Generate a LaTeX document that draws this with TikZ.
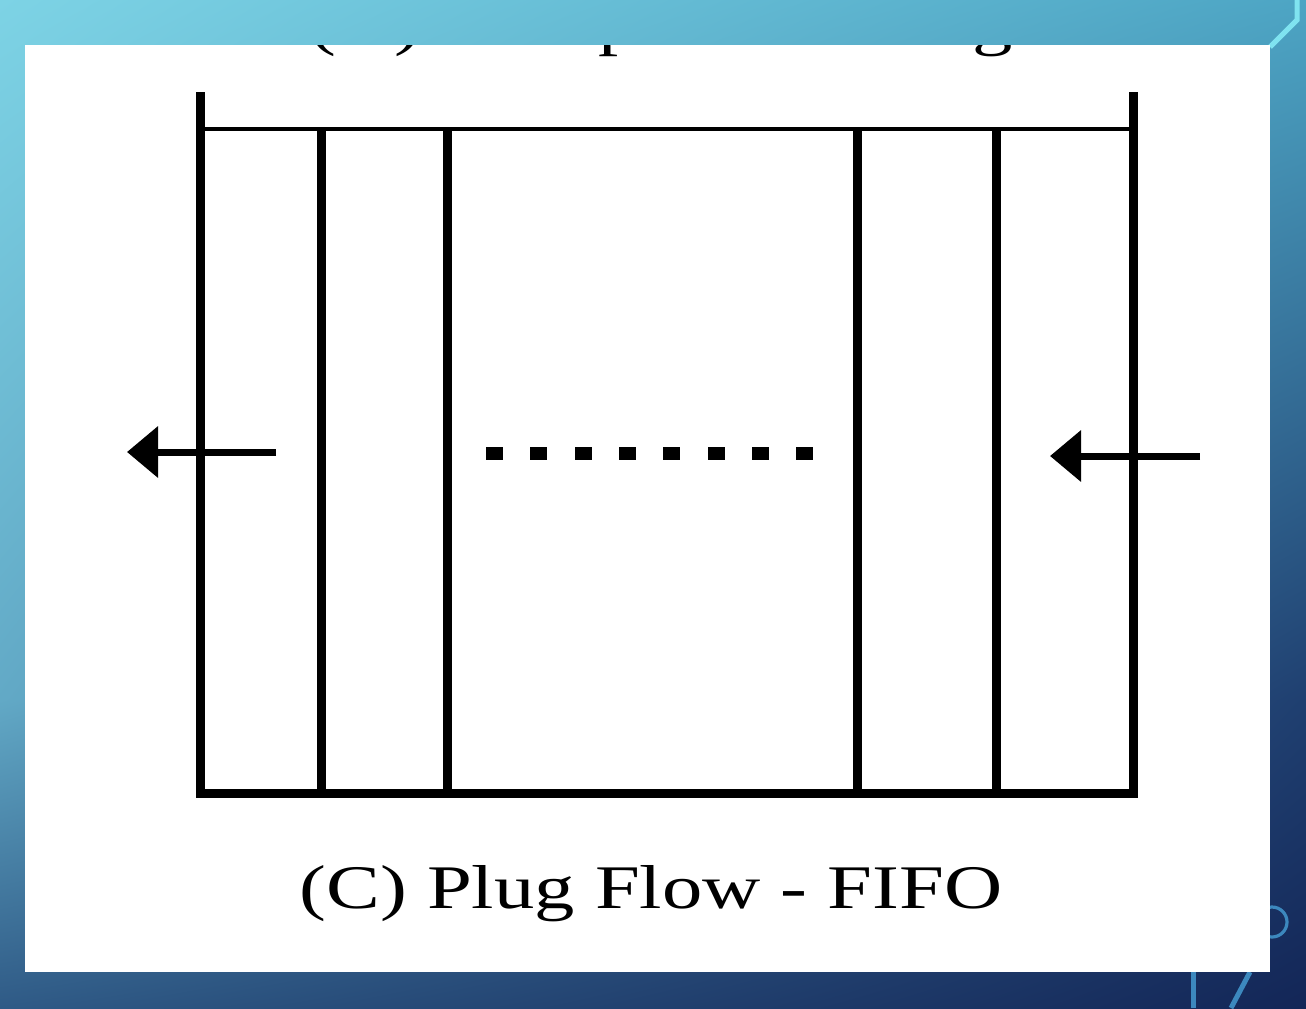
\documentclass[tikz,border=0pt]{standalone}
\usepackage{fontspec}
\setmainfont{Liberation Serif}
\usetikzlibrary{arrows.meta,shadings}

\definecolor{bgtl}{HTML}{7DD3E5}
\definecolor{bgtr}{HTML}{4DA5C4}
\definecolor{bgml}{HTML}{62A9C6}
\definecolor{bgmr}{HTML}{1F3F70}
\definecolor{bgbl}{HTML}{2F5A86}
\definecolor{bgbr}{HTML}{132657}
\definecolor{decocyan}{HTML}{7FE3F0}
\definecolor{decoblue}{HTML}{3C88BE}

\begin{document}
\begin{tikzpicture}[x=0.5pt,y=0.5pt,yscale=-1,xscale=1,
  wall/.style={line width=4.5pt,line join=miter},
  rim/.style={line width=2.2pt},
  flow/.style={line width=3.5pt,-{Triangle[length=15.5pt,width=25pt]}},
  deco/.style={line width=2.5pt}]
\useasboundingbox (0,0) rectangle (1306,1008);

%Background
\shade[upper left=bgtl,upper right=bgtr,lower left=bgml,lower right=bgmr] (0,0) rectangle (1306,701);
\shade[upper left=bgml,upper right=bgmr,lower left=bgbl,lower right=bgbr] (0,700) rectangle (1306,1008);
\draw[deco,decocyan] (1297,0) -- (1297,20) -- (1270,47);
\draw[decoblue,line width=1.6pt] (1272,922) circle[radius=7.5pt];
\draw[deco,decoblue] (1193,972) -- (1193,1008);
\draw[deco,decoblue] (1250,972) -- (1231,1008);

%Slide panel
\fill[white] (25,45) rectangle (1270,972);
\begin{scope}
\clip (25,45) rectangle (1270,972);
\node[anchor=base west,inner sep=0pt] (title) at (309,43) {\fontsize{31}{31}\selectfont\scalebox{1.3}[1]{(A) Complete Mixing}};
\end{scope}

%Tank
\coordinate (topL) at (200,92);
\coordinate (botL) at (200,793);
\coordinate (botR) at (1133,793);
\coordinate (topR) at (1133,92);
\draw[wall] (topL) -- (botL) -- (botR) -- (topR);
\draw[rim] (200,129) -- (1133,129);
\foreach \x in {321,447,857,996}
  \draw[wall] (\x,129) -- (\x,793);

%Dots
\foreach \i in {0,...,7}
  \fill ({486+44.3*\i},447) rectangle +(17,13);

%Flow arrows
\coordinate (outStart) at (276,452);
\coordinate (outEnd) at (127,452);
\coordinate (inStart) at (1200,456);
\coordinate (inEnd) at (1050,456);
\draw[flow] (outStart) -- (outEnd);
\draw[flow] (inStart) -- (inEnd);

% Text Node
\node[anchor=base,inner sep=0pt] (caption) at (651,908) {\fontsize{31}{31}\selectfont\scalebox{1.3}[1]{(C) Plug Flow - FIFO}};

\end{tikzpicture}
\end{document}
